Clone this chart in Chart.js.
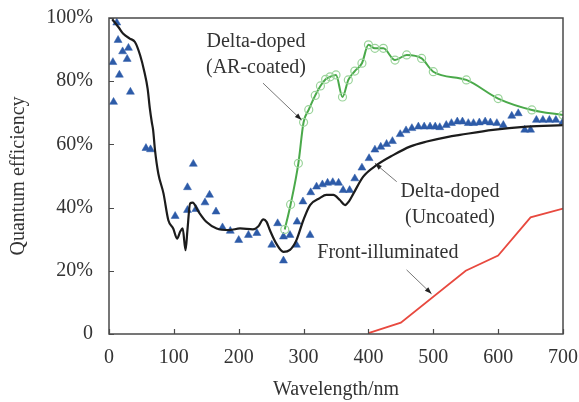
<!DOCTYPE html>
<html>
<head>
<meta charset="utf-8">
<script src="https://cdn.jsdelivr.net/npm/chart.js@4.4.1/dist/chart.umd.min.js"></script>
<style>
  html, body { margin: 0; padding: 0; background: #fff; }
  #wrap { width: 579px; height: 402px; }
</style>
</head>
<body>
<div id="wrap"><canvas id="c" width="579" height="402"></canvas></div>
<script>
// ---- Data ----
const xTicks = [0, 100, 200, 300, 400, 500, 600, 700];
const yTicks = [0, 20, 40, 60, 80, 100];

// Delta-doped (Uncoated) model curve (black)
const uncoatedCurveWl = [5, 15, 22, 32, 40, 48, 54.5, 59.6, 63, 66, 68, 71, 76, 84, 91.5, 99, 105, 110, 113.6, 118, 121, 125, 129, 138, 150, 166, 186, 202, 222, 230, 238, 243, 248, 258, 269, 279, 289, 299.6, 310, 325, 335, 346, 356, 364, 370, 377, 392, 413, 438, 464, 490, 523, 541, 592, 644, 700];
const uncoatedCurveQe = [99.6, 97, 95, 93.5, 92.4, 88.2, 83, 77.6, 71.3, 67, 64.6, 58, 50.8, 44.5, 36, 33.4, 30.2, 32.5, 33.4, 26.5, 33, 41.3, 41.6, 38.7, 35.5, 33.4, 32.9, 33.4, 33.1, 34, 36.3, 35.5, 32.9, 28.6, 26, 26.6, 29.7, 36, 40.8, 43, 44, 44, 42.4, 40.8, 42, 44.5, 49.8, 53.5, 56.6, 59.3, 60.9, 62.4, 63, 64.6, 65.6, 66.1];

// Delta-doped (Uncoated) measured (blue triangles)
const uncoatedMeasWl = [6, 7, 12, 14, 16, 21, 28, 30, 33, 57, 64, 102, 121, 121, 130, 134, 148, 155, 165, 175, 187, 200, 215, 228, 251, 260, 269, 269, 279, 289, 290, 299, 310, 311, 320, 329, 337, 345, 354, 361, 371, 379, 390, 401, 410, 419, 428, 437, 449, 458, 467, 477, 486, 495, 503, 510, 520, 528, 537, 545, 554, 562, 571, 580, 588, 598, 608, 621, 631, 641, 650, 659, 669, 679, 689, 700];
const uncoatedMeasQe = [86, 73.4, 98.5, 93, 82, 89.4, 87, 90.5, 76.6, 58.8, 58.4, 37.3, 46.4, 39.2, 53.8, 39.5, 41.6, 44, 38.7, 33.7, 32.6, 29.7, 31.3, 31.9, 28.2, 35, 30.8, 23.2, 31.3, 28.2, 35.5, 41.9, 31.3, 44.8, 46.6, 47.3, 47.8, 48, 47.8, 45.5, 45.5, 49.2, 52.6, 55.6, 58.3, 59.2, 60.1, 61, 63.2, 64.4, 65.1, 65.6, 65.6, 65.6, 65.6, 65.4, 66.1, 66.7, 67.2, 67.2, 66.7, 66.7, 66.9, 67.2, 66.9, 66.7, 66.1, 69, 69.8, 64.6, 64.6, 67.7, 67.7, 67.7, 67.7, 67.2];

// Delta-doped (AR-coated) (green circles + line)
const arCoatedWl = [271, 280, 292, 300, 308, 318, 326, 334, 341, 350, 360, 369, 379, 390, 400, 410, 423, 441, 459, 482, 500, 551, 600, 652, 700];
const arCoatedQe = [33.1, 41, 54, 67, 71, 75.5, 78.5, 80.6, 81.4, 82, 75, 80.4, 83.2, 85.7, 91.5, 90.4, 90.4, 86.7, 88.3, 87.2, 83, 80.4, 74.5, 70.9, 69.3];

// Front-illuminated (red line)
const frontWl = [400, 450, 550, 600, 650, 700];
const frontQe = [0.3, 3.6, 20, 24.8, 36.9, 39.7];

// Annotations: text lines, label centre (wl, qe), arrow start (wl, qe), arrow end (wl, qe)
const annoAR = { lines: ['Delta-doped', '(AR-coated)'], at: [226.6, 92.4], from: [237.4, 79.4], to: [297, 67.7] };
const annoUn = { lines: ['Delta-doped', '(Uncoated)'], at: [525.7, 44.9], from: [443.6, 48.2], to: [410, 54] };
const annoFr = { lines: ['Front-illuminated'], at: [430, 25.6], from: [458.8, 20.3], to: [497.4, 12.7] };
const annotations = [annoAR, annoUn, annoFr];

const toPts = (xs, ys) => xs.map((x, i) => ({ x: x, y: ys[i] }));

const FONT = '"Liberation Serif", "DejaVu Serif", serif';
const TXT = '#333333';

const framePlugin = {
  id: 'frame',
  afterDraw(chart) {
    const { ctx, chartArea: a, scales: { x, y } } = chart;
    ctx.save();
    ctx.strokeStyle = '#4a4a4a';
    ctx.lineWidth = 1.5;
    ctx.strokeRect(a.left, a.top, a.right - a.left, a.bottom - a.top);
    ctx.lineWidth = 1.2;
    ctx.beginPath();
    xTicks.forEach(v => {
      const px = Math.round(x.getPixelForValue(v)) + 0.5;
      ctx.moveTo(px, a.bottom);
      ctx.lineTo(px, a.bottom - 5);
    });
    yTicks.forEach(v => {
      const py = Math.round(y.getPixelForValue(v)) + 0.5;
      ctx.moveTo(a.left, py);
      ctx.lineTo(a.left + 5, py);
    });
    ctx.stroke();

    ctx.font = '20px ' + FONT;
    ctx.textAlign = 'center';
    ctx.textBaseline = 'middle';
    annotations.forEach(an => {
      const cx = x.getPixelForValue(an.at[0]);
      const cy = y.getPixelForValue(an.at[1]);
      ctx.fillStyle = TXT;
      an.lines.forEach((t, i) => ctx.fillText(t, cx, cy + i * 26));
      const x0 = x.getPixelForValue(an.from[0]), y0 = y.getPixelForValue(an.from[1]);
      const x1 = x.getPixelForValue(an.to[0]), y1 = y.getPixelForValue(an.to[1]);
      ctx.strokeStyle = '#777';
      ctx.lineWidth = 1;
      ctx.beginPath();
      ctx.moveTo(x0, y0);
      ctx.lineTo(x1, y1);
      ctx.stroke();
      const ang = Math.atan2(y1 - y0, x1 - x0);
      const L = 7, W = 2.5;
      ctx.fillStyle = '#222';
      ctx.beginPath();
      ctx.moveTo(x1, y1);
      ctx.lineTo(x1 - L * Math.cos(ang) + W * Math.sin(ang), y1 - L * Math.sin(ang) - W * Math.cos(ang));
      ctx.lineTo(x1 - L * Math.cos(ang) - W * Math.sin(ang), y1 - L * Math.sin(ang) + W * Math.cos(ang));
      ctx.closePath();
      ctx.fill();
    });
    ctx.restore();
  }
};

new Chart(document.getElementById('c'), {
  type: 'line',
  data: {
    datasets: [
      {
        label: 'Delta-doped (Uncoated) model',
        data: toPts(uncoatedCurveWl, uncoatedCurveQe),
        borderColor: '#1c1c1c',
        borderWidth: 2.2,
        pointRadius: 0,
        cubicInterpolationMode: 'monotone',
        fill: false
      },
      {
        label: 'Delta-doped (AR-coated)',
        data: toPts(arCoatedWl, arCoatedQe),
        borderColor: '#4aa94a',
        borderWidth: 2,
        pointRadius: 4,
        pointStyle: 'circle',
        pointBackgroundColor: 'rgba(0,0,0,0)',
        pointBorderColor: '#9bd49b',
        pointBorderWidth: 1.2,
        cubicInterpolationMode: 'monotone',
        fill: false
      },
      {
        label: 'Front-illuminated',
        data: toPts(frontWl, frontQe),
        borderColor: '#e8493f',
        borderWidth: 1.8,
        pointRadius: 0,
        tension: 0,
        fill: false
      },
      {
        label: 'Delta-doped (Uncoated) measured',
        data: toPts(uncoatedMeasWl, uncoatedMeasQe),
        showLine: false,
        pointStyle: 'triangle',
        pointRadius: 4.6,
        pointBackgroundColor: '#2d5ba8',
        pointBorderColor: '#2d5ba8',
        pointBorderWidth: 0.5
      }
    ]
  },
  options: {
    responsive: false,
    animation: false,
    devicePixelRatio: 1,
    layout: { padding: { top: 18, right: 16, left: 0, bottom: 0 } },
    plugins: { legend: { display: false }, tooltip: { enabled: false } },
    scales: {
      x: {
        type: 'linear',
        min: 0, max: 700,
        afterFit(s) { s.height = 68; s.paddingLeft = 0; s.paddingRight = 0; },
        afterBuildTicks(s) { s.ticks = xTicks.map(v => ({ value: v })); },
        grid: { display: false, drawTicks: false },
        border: { display: false },
        ticks: { color: TXT, font: { family: FONT, size: 20 }, padding: 12, maxRotation: 0, autoSkip: false },
        title: { display: true, text: 'Wavelength/nm', color: TXT, font: { family: FONT, size: 20 }, padding: { top: 0, bottom: 0 } }
      },
      y: {
        type: 'linear',
        min: 0, max: 100,
        afterFit(s) { s.width = 109; s.paddingTop = 0; s.paddingBottom = 0; },
        afterBuildTicks(s) { s.ticks = yTicks.map(v => ({ value: v })); },
        grid: { display: false, drawTicks: false },
        border: { display: false },
        ticks: { color: TXT, font: { family: FONT, size: 20 }, padding: 16, autoSkip: false,
                 callback: v => (v === 0 ? '0' : v + '%') },
        title: { display: true, text: 'Quantum efficiency', color: TXT, font: { family: FONT, size: 20 }, padding: { top: 7, bottom: 0 } }
      }
    }
  },
  plugins: [framePlugin]
});
</script>
</body>
</html>
